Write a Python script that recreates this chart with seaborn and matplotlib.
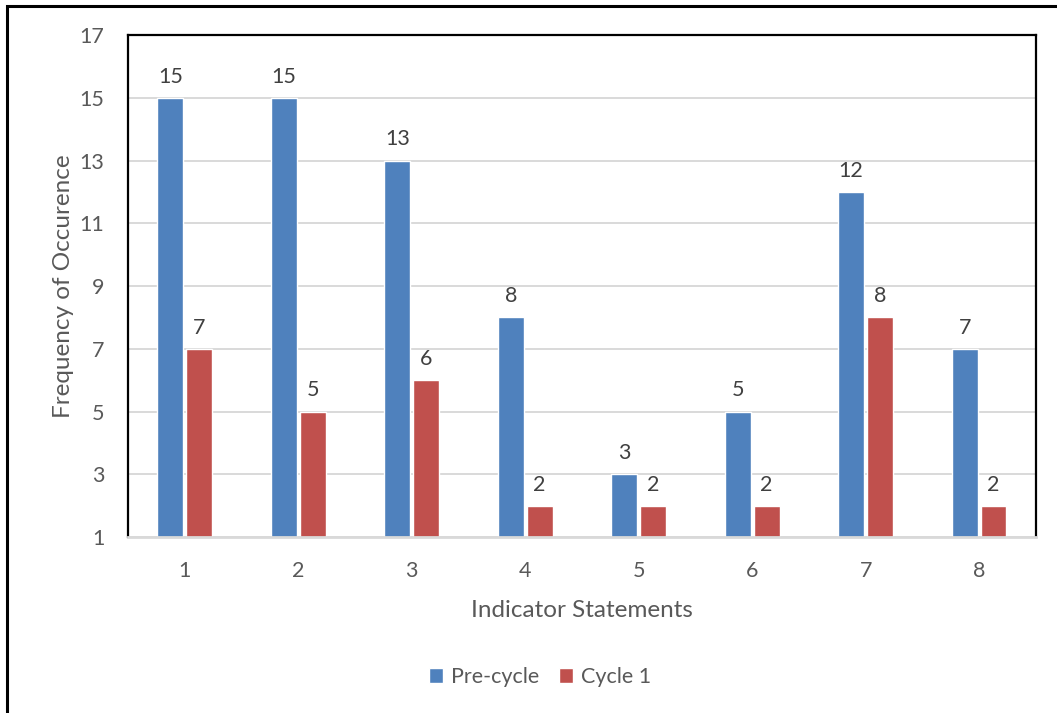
import matplotlib
matplotlib.use("Agg")
import matplotlib.pyplot as plt
from matplotlib.patches import Rectangle
import pandas as pd
import seaborn as sns

# Chart data
statements = ["1", "2", "3", "4", "5", "6", "7", "8"]
pre_cycle = [15, 15, 13, 8, 3, 5, 12, 7]
cycle_1 = [7, 5, 6, 2, 2, 2, 8, 2]
series_names = ["Pre-cycle", "Cycle 1"]
y_ticks = [1, 3, 5, 7, 9, 11, 13, 15, 17]

df = pd.DataFrame({
    "Indicator Statements": statements * 2,
    "Frequency": pre_cycle + cycle_1,
    "Series": [series_names[0]] * len(statements) + [series_names[1]] * len(statements),
})

sns.set_theme(style="white")
plt.rcParams["font.family"] = ["Lato", "DejaVu Sans"]

BLUE = "#4F81BD"
RED = "#C0504D"
TEXT = "#595959"

fig = plt.figure(figsize=(10.57, 7.13), dpi=100)
ax = fig.add_axes([0.1211, 0.2468, 0.8589, 0.7041])

sns.barplot(
    data=df, x="Indicator Statements", y="Frequency", hue="Series",
    hue_order=series_names, order=statements,
    palette=[BLUE, RED], width=0.51, gap=0.11,
    saturation=1, ax=ax, legend=True,
)

for cont in ax.containers:
    ax.bar_label(cont, fmt="%d", padding=8, fontsize=15.5, color="#404040")

ax.set_ylim(1, 17)
ax.set_yticks(y_ticks)
ax.set_xlim(-0.5, len(statements) - 0.5)
ax.grid(axis="y", color="#D9D9D9", linewidth=1.4)
ax.set_axisbelow(True)
ax.tick_params(axis="both", length=0, labelsize=15.5, labelcolor=TEXT)
ax.tick_params(axis="x", pad=17)
ax.tick_params(axis="y", pad=17)

ax.set_xlabel("Indicator Statements", fontsize=17.5, color=TEXT, labelpad=14)
ax.set_ylabel("Frequency of Occurence", fontsize=17.5, color=TEXT, labelpad=4)

for side in ("left", "top", "right"):
    ax.spines[side].set_visible(True)
    ax.spines[side].set_color("black")
    ax.spines[side].set_linewidth(1.6)
ax.spines["bottom"].set_color("#D9D9D9")
ax.spines["bottom"].set_linewidth(2)

handles, labels = ax.get_legend_handles_labels()
ax.get_legend().remove()
fig.legend(
    handles, labels, loc="center", bbox_to_anchor=(540 / 1057, 1 - 677 / 713),
    ncol=2, frameon=False, fontsize=15.5, handlelength=0.65,
    handleheight=0.65, handletextpad=0.4, columnspacing=0.9,
    labelcolor=TEXT,
)

# outer frame around the chart area
fig.patches.append(Rectangle(
    (7 / 1057, -0.05), 1.2, 1.05 - 6 / 713,
    transform=fig.transFigure, fill=False, edgecolor="black",
    linewidth=2.2, figure=fig,
))

fig.savefig("out.png", dpi=100)
